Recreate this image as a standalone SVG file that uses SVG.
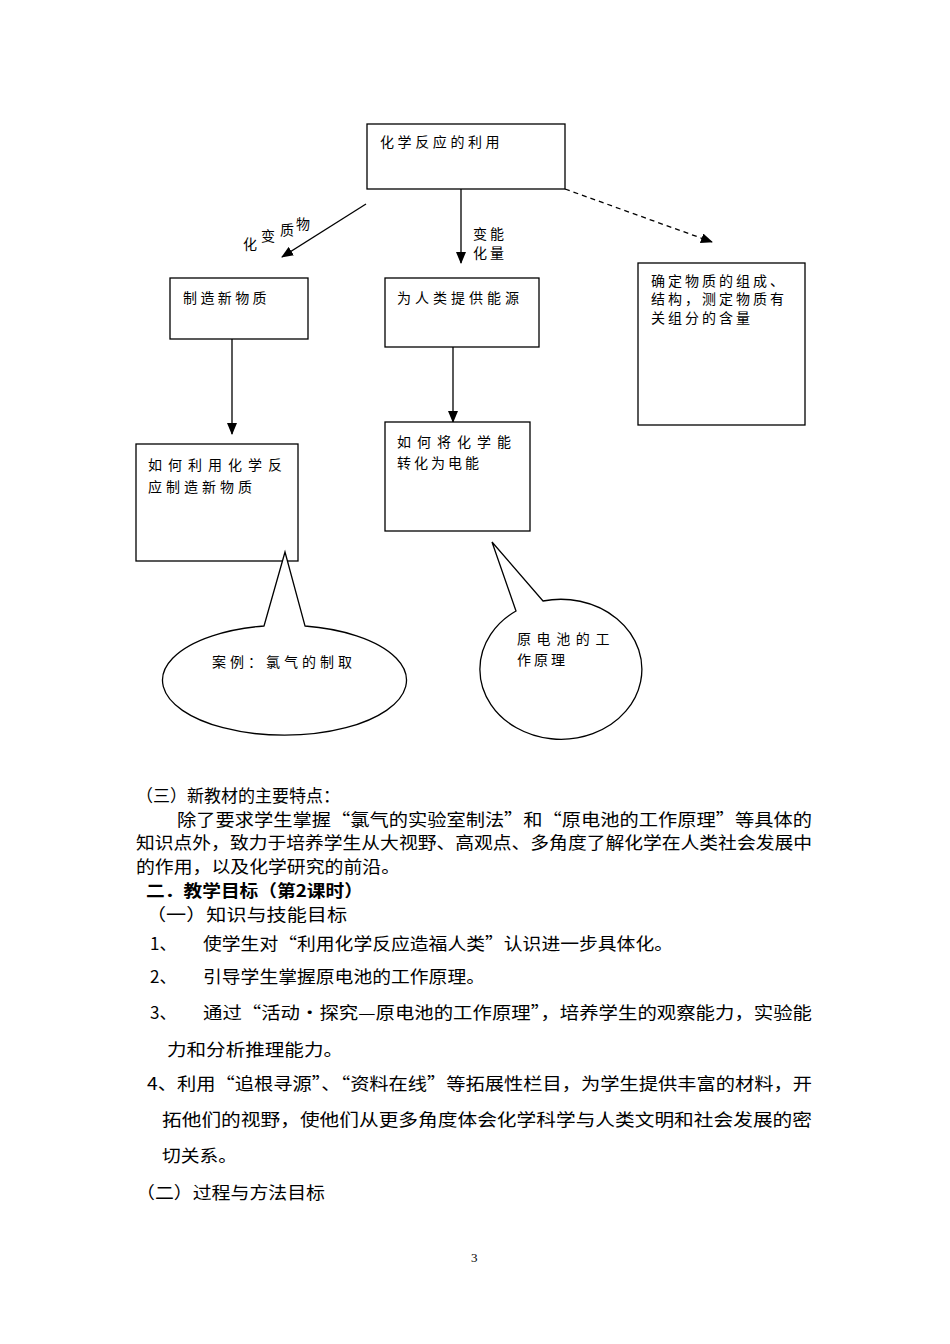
<svg xmlns="http://www.w3.org/2000/svg" width="950" height="1344" viewBox="0 0 950 1344">
<style>
.box{fill:#fff;stroke:#000;stroke-width:1.3}
.ln{stroke:#000;stroke-width:1.3;fill:none}
.d{font-family:"Noto Sans CJK SC","Liberation Sans",sans-serif;font-size:14px;fill:#000}
.b{font-family:"Noto Sans CJK SC","Liberation Sans",sans-serif;font-size:17px;fill:#000}
.bold{font-weight:bold}
</style>
<defs>
<marker id="ah" markerWidth="12" markerHeight="10" refX="11" refY="5" orient="auto" markerUnits="userSpaceOnUse">
<path d="M0,0 L12,5 L0,10 Z" fill="#000"/>
</marker>
</defs>
<rect width="950" height="1344" fill="#fff"/>
<g id="connectors">
<line class="ln" x1="366" y1="204" x2="282" y2="257" marker-end="url(#ah)"/>
<line class="ln" x1="461" y1="189" x2="461" y2="263" marker-end="url(#ah)"/>
<line class="ln" x1="565" y1="189" x2="712" y2="242" stroke-dasharray="5,4" marker-end="url(#ah)"/>
<line class="ln" x1="232" y1="339" x2="232" y2="434" marker-end="url(#ah)"/>
<line class="ln" x1="453" y1="323" x2="453" y2="422" marker-end="url(#ah)"/>
<text class="d" x="243" y="249">化</text>
<text class="d" x="261" y="241">变</text>
<text class="d" x="280" y="235">质</text>
<text class="d" x="296" y="229">物</text>
<text class="d" x="473" y="239" font-size="12.5" letter-spacing="3">变能</text>
<text class="d" x="473" y="258" font-size="12.5" letter-spacing="3">化量</text>
</g>
<g id="n-root">
<rect class="box" x="367" y="124" width="198" height="65"/>
<text class="d" x="380" y="147" letter-spacing="3.6">化学反应的利用</text>
</g>
<g id="n-make">
<rect class="box" x="170" y="278" width="138" height="61"/>
<text class="d" x="183" y="303" letter-spacing="3.4">制造新物质</text>
</g>
<g id="n-energy">
<rect class="box" x="385" y="278" width="154" height="69"/>
<text class="d" x="397" y="303" letter-spacing="4">为人类提供能源</text>
</g>
<g id="n-analyze">
<rect class="box" x="638" y="263" width="167" height="162"/>
<text class="d" x="651" y="286" letter-spacing="3">确定物质的组成、</text>
<text class="d" x="651" y="304" letter-spacing="3">结构，测定物质有</text>
<text class="d" x="651" y="323" letter-spacing="3">关组分的含量</text>
</g>
<g id="n-how-make">
<rect class="box" x="136" y="444" width="162" height="117"/>
<text class="d" x="148" y="470" letter-spacing="6">如何利用化学反</text>
<text class="d" x="148" y="492" letter-spacing="4">应制造新物质</text>
</g>
<g id="n-how-energy">
<rect class="box" x="385" y="422" width="145" height="109"/>
<text class="d" x="397" y="447" letter-spacing="6">如何将化学能</text>
<text class="d" x="397" y="468" letter-spacing="3">转化为电能</text>
</g>
<g id="n-case">
<path class="box" d="M264,626 L285,552 L305,626 A122 55 0 1 1 264,626 Z"/>
<text class="d" x="212" y="667" letter-spacing="4">案例：氯气的制取</text>
</g>
<g id="n-cell">
<path class="box" d="M516,611 L492,542 L543,601 A81 70 0 1 1 516,611 Z"/>
<text class="d" x="517" y="644" letter-spacing="5.6">原电池的工</text>
<text class="d" x="517" y="665" letter-spacing="3">作原理</text>
</g>
<g id="body">
<text class="b" x="136" y="802">（三）新教材的主要特点：</text>
<text class="b" x="177" y="826" textLength="635" lengthAdjust="spacingAndGlyphs">除了要求学生掌握“氯气的实验室制法”和“原电池的工作原理”等具体的</text>
<text class="b" x="136" y="849" textLength="676" lengthAdjust="spacingAndGlyphs">知识点外，致力于培养学生从大视野、高观点、多角度了解化学在人类社会发展中</text>
<text class="b" x="136" y="873" textLength="264" lengthAdjust="spacingAndGlyphs">的作用，以及化学研究的前沿。</text>
<text class="b bold" x="146" y="897" textLength="217" lengthAdjust="spacingAndGlyphs">二．教学目标（第2课时）</text>
<text class="b" x="146" y="921" textLength="201" lengthAdjust="spacingAndGlyphs">（一）知识与技能目标</text>
<text class="b" x="150" y="950">1、</text>
<text class="b" x="203" y="950" textLength="470" lengthAdjust="spacingAndGlyphs">使学生对“利用化学反应造福人类”认识进一步具体化。</text>
<text class="b" x="150" y="983">2、</text>
<text class="b" x="203" y="983" textLength="282" lengthAdjust="spacingAndGlyphs">引导学生掌握原电池的工作原理。</text>
<text class="b" x="150" y="1019">3、</text>
<text class="b" x="203" y="1019" textLength="609" lengthAdjust="spacingAndGlyphs">通过“活动·探究—原电池的工作原理”，培养学生的观察能力，实验能</text>
<text class="b" x="167" y="1056" textLength="176" lengthAdjust="spacingAndGlyphs">力和分析推理能力。</text>
<text class="b" x="147" y="1090" textLength="665" lengthAdjust="spacingAndGlyphs">4、利用“追根寻源”、“资料在线”等拓展性栏目，为学生提供丰富的材料，开</text>
<text class="b" x="162" y="1126" textLength="650" lengthAdjust="spacingAndGlyphs">拓他们的视野，使他们从更多角度体会化学科学与人类文明和社会发展的密</text>
<text class="b" x="162" y="1162" textLength="75" lengthAdjust="spacingAndGlyphs">切关系。</text>
<text class="b" x="136" y="1199" textLength="189" lengthAdjust="spacingAndGlyphs">（二）过程与方法目标</text>
<text x="471" y="1262" font-family="Liberation Serif,serif" font-size="13" fill="#000">3</text>
</g>
</svg>
